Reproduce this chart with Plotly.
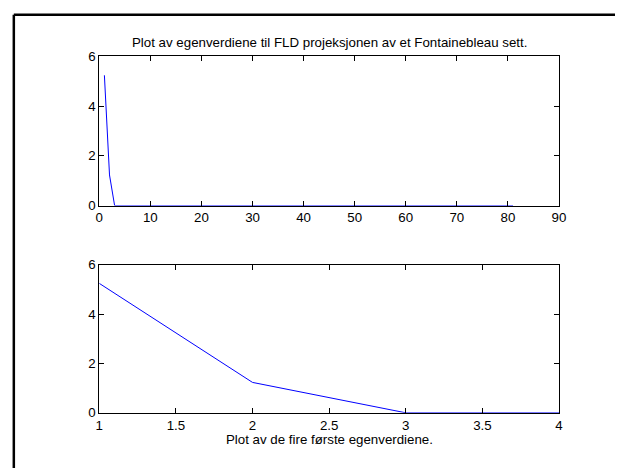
import plotly.graph_objects as go

# Eigenvalues of the FLD projection (81 values, only the first two are non-zero)
eigenvalues = [
    5.24, 1.23, 0.0, 0.0, 0.0, 0.0, 0.0, 0.0, 0.0, 0.0,
    0.0, 0.0, 0.0, 0.0, 0.0, 0.0, 0.0, 0.0, 0.0, 0.0,
    0.0, 0.0, 0.0, 0.0, 0.0, 0.0, 0.0, 0.0, 0.0, 0.0,
    0.0, 0.0, 0.0, 0.0, 0.0, 0.0, 0.0, 0.0, 0.0, 0.0,
    0.0, 0.0, 0.0, 0.0, 0.0, 0.0, 0.0, 0.0, 0.0, 0.0,
    0.0, 0.0, 0.0, 0.0, 0.0, 0.0, 0.0, 0.0, 0.0, 0.0,
    0.0, 0.0, 0.0, 0.0, 0.0, 0.0, 0.0, 0.0, 0.0, 0.0,
    0.0, 0.0, 0.0, 0.0, 0.0, 0.0, 0.0, 0.0, 0.0, 0.0,
    0.0,
]
index_all = list(range(1, len(eigenvalues) + 1))

# First four eigenvalues
index_first = [1, 2, 3, 4]
eig_first = eigenvalues[:4]

top_xticks = [0, 10, 20, 30, 40, 50, 60, 70, 80, 90]
bottom_xticks = [1, 1.5, 2, 2.5, 3, 3.5, 4]
bottom_xticklabels = ["1", "1.5", "2", "2.5", "3", "3.5", "4"]
yticks = [0, 2, 4, 6]

title_top = "Plot av egenverdiene til FLD projeksjonen av et Fontainebleau sett."
label_bottom = "Plot av de fire første egenverdiene."

W, H = 622, 476
font_family = "Liberation Sans, Arial, Helvetica, sans-serif"
font_size = 13.3

fig = go.Figure()
fig.add_trace(go.Scatter(x=index_all, y=eigenvalues, mode="lines",
                         line=dict(color="#0000ff", width=1),
                         xaxis="x", yaxis="y", showlegend=False))
fig.add_trace(go.Scatter(x=index_first, y=eig_first, mode="lines",
                         line=dict(color="#0000ff", width=1),
                         xaxis="x2", yaxis="y2", showlegend=False))

xdom = [97 / W, 565 / W]
axis_common = dict(
    showline=True, linecolor="black", linewidth=1, mirror="ticks",
    ticks="inside", ticklen=5, tickwidth=1, tickcolor="black",
    showgrid=False, zeroline=False,
    tickfont=dict(family=font_family, size=font_size, color="black"),
)

fig.update_layout(
    width=W, height=H,
    margin=dict(l=0, r=0, t=0, b=0),
    paper_bgcolor="white", plot_bgcolor="white",
    xaxis=dict(domain=xdom, anchor="y", range=[0, 90], tickvals=top_xticks, **axis_common),
    yaxis=dict(domain=[(H - 205) / H, (H - 51) / H], anchor="x", range=[0, 6], tickvals=yticks, **axis_common),
    xaxis2=dict(domain=xdom, anchor="y2", range=[1, 4], tickvals=bottom_xticks,
                ticktext=bottom_xticklabels, **axis_common),
    yaxis2=dict(domain=[(H - 419) / H, (H - 266) / H], anchor="x2", range=[0, 6], tickvals=yticks, **axis_common),
    annotations=[
        dict(text=title_top, x=331 / W, y=(H - 37) / H, xref="paper", yref="paper",
             showarrow=False, xanchor="center", yanchor="middle",
             font=dict(family=font_family, size=font_size, color="black")),
        dict(text=label_bottom, x=331 / W, y=(H - 447) / H, xref="paper", yref="paper",
             showarrow=False, xanchor="center", yanchor="middle",
             font=dict(family=font_family, size=font_size, color="black")),
    ],
    shapes=[
        dict(type="line", xref="paper", yref="paper", x0=10 / W, x1=1, y0=(H - 8) / H, y1=(H - 8) / H,
             line=dict(color="black", width=2.5)),
        dict(type="line", xref="paper", yref="paper", x0=10 / W, x1=10 / W, y0=0, y1=(H - 8) / H,
             line=dict(color="black", width=2.5)),
    ],
)

# Remove the default page margin so the figure sits at the window's top-left corner
page_css = "document.body.style.margin='0';document.body.style.overflow='hidden';"
fig.write_html("out.html", post_script=page_css)
